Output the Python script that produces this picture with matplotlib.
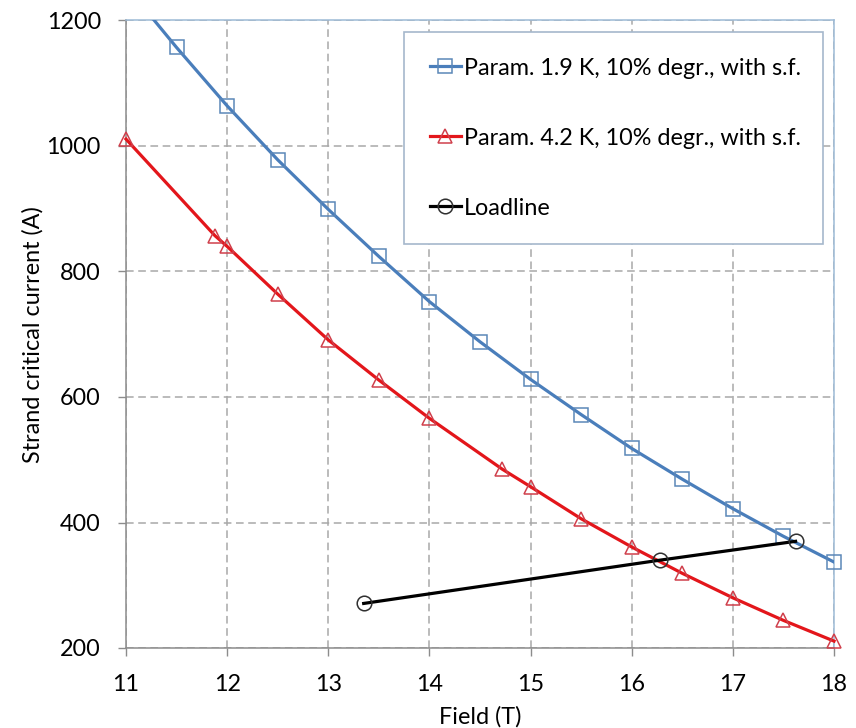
import matplotlib
matplotlib.use("Agg")
import matplotlib.pyplot as plt
from matplotlib.lines import Line2D

plt.rcParams['font.family'] = ['Lato', 'DejaVu Sans']

# parametrisation at 1.9 K (line reaches above the top of the axes at 11 T)
field_19 = [11.0, 11.5, 12.0, 12.5, 13.0, 13.5, 14.0, 14.5, 15.0, 15.5, 16.0, 16.5, 17.0, 17.5, 18.0]
ic_19 = [1255, 1157, 1064, 978, 899, 824, 752, 688, 628, 572, 518, 469, 422, 378, 337]

# parametrisation at 4.2 K
field_42 = [11.0, 11.88, 12.0, 12.5, 13.0, 13.5, 14.0, 14.72, 15.0, 15.5, 16.0, 16.5, 17.0, 17.5, 18.0]
ic_42 = [1011, 857, 840, 764, 691, 627, 566, 485, 457, 406, 361, 319, 280, 244, 211]

# loadline
field_ll = [13.35, 16.28, 17.62]
ic_ll = [271, 340, 370]

labels = ['Param. 1.9 K, 10% degr., with s.f.',
          'Param. 4.2 K, 10% degr., with s.f.',
          'Loadline']

blue = '#4A7EBB'
blue_edge = '#5B87B8'
red = '#E3161B'
red_edge = '#D0404C'
fs = 16.8

fig = plt.figure(figsize=(8.56, 7.28), dpi=100)
ax = fig.add_axes([126 / 856, 1 - 648 / 728, 708 / 856, 627.5 / 728])

ax.plot(field_19, ic_19, color=blue, lw=2.3, zorder=3)
ax.plot(field_19[1:], ic_19[1:], ls='none', marker='s', ms=10.5, mfc='none',
        mec=blue_edge, mew=1.1, clip_on=False, zorder=4)

ax.plot(field_42, ic_42, color=red, lw=2.3, clip_on=False, zorder=3)
ax.plot(field_42, ic_42, ls='none', marker='^', ms=10, mfc='none',
        mec=red_edge, mew=1.1, clip_on=False, zorder=4)

ax.plot(field_ll, ic_ll, color='black', lw=2.3, marker='o', ms=10.5, mfc='none',
        mec='#303030', mew=1.1, clip_on=False, zorder=5)

ax.set_xlim(11, 18)
ax.set_ylim(200, 1200)
ax.set_xticks(range(11, 19))
ax.set_yticks(range(200, 1201, 200))

ax.grid(True, color='#A8A8A8', ls=(0, (5, 3)), lw=1.1)
ax.set_axisbelow(True)

for s in ['left', 'bottom']:
    ax.spines[s].set_color('#8C8C8C')
    ax.spines[s].set_linewidth(1.1)
for s in ['top', 'right']:
    ax.spines[s].set_color('#9DBAD6')
    ax.spines[s].set_linewidth(1.1)

ax.tick_params(axis='both', length=6, width=1, color='#8C8C8C', labelsize=fs)
ax.tick_params(axis='y', pad=12)
ax.tick_params(axis='x', pad=13)

ax.set_xlabel('Field (T)', fontsize=fs, labelpad=8)
ax.set_ylabel('Strand critical current (A)', fontsize=fs, labelpad=2)

handles = [
    Line2D([], [], color=blue, lw=2.3, marker='s', ms=10.5, mfc='none', mec=blue_edge, mew=1.1),
    Line2D([], [], color=red, lw=2.3, marker='^', ms=10, mfc='none', mec=red_edge, mew=1.1),
    Line2D([], [], color='black', lw=2.3, marker='o', ms=10.5, mfc='none', mec='#303030', mew=1.1),
]
leg = ax.legend(handles, labels, loc='upper left',
                bbox_to_anchor=(278 / 708, 0.6454, 419 / 708, 0.3363), mode='expand',
                fontsize=fs, frameon=True, fancybox=False, framealpha=1,
                handlelength=1.33, handletextpad=0.13, labelspacing=2.1,
                borderpad=1.1, borderaxespad=0)
leg.get_frame().set_edgecolor('#A5B8CC')
leg.get_frame().set_linewidth(1.2)

fig.savefig('out.png', dpi=100)
